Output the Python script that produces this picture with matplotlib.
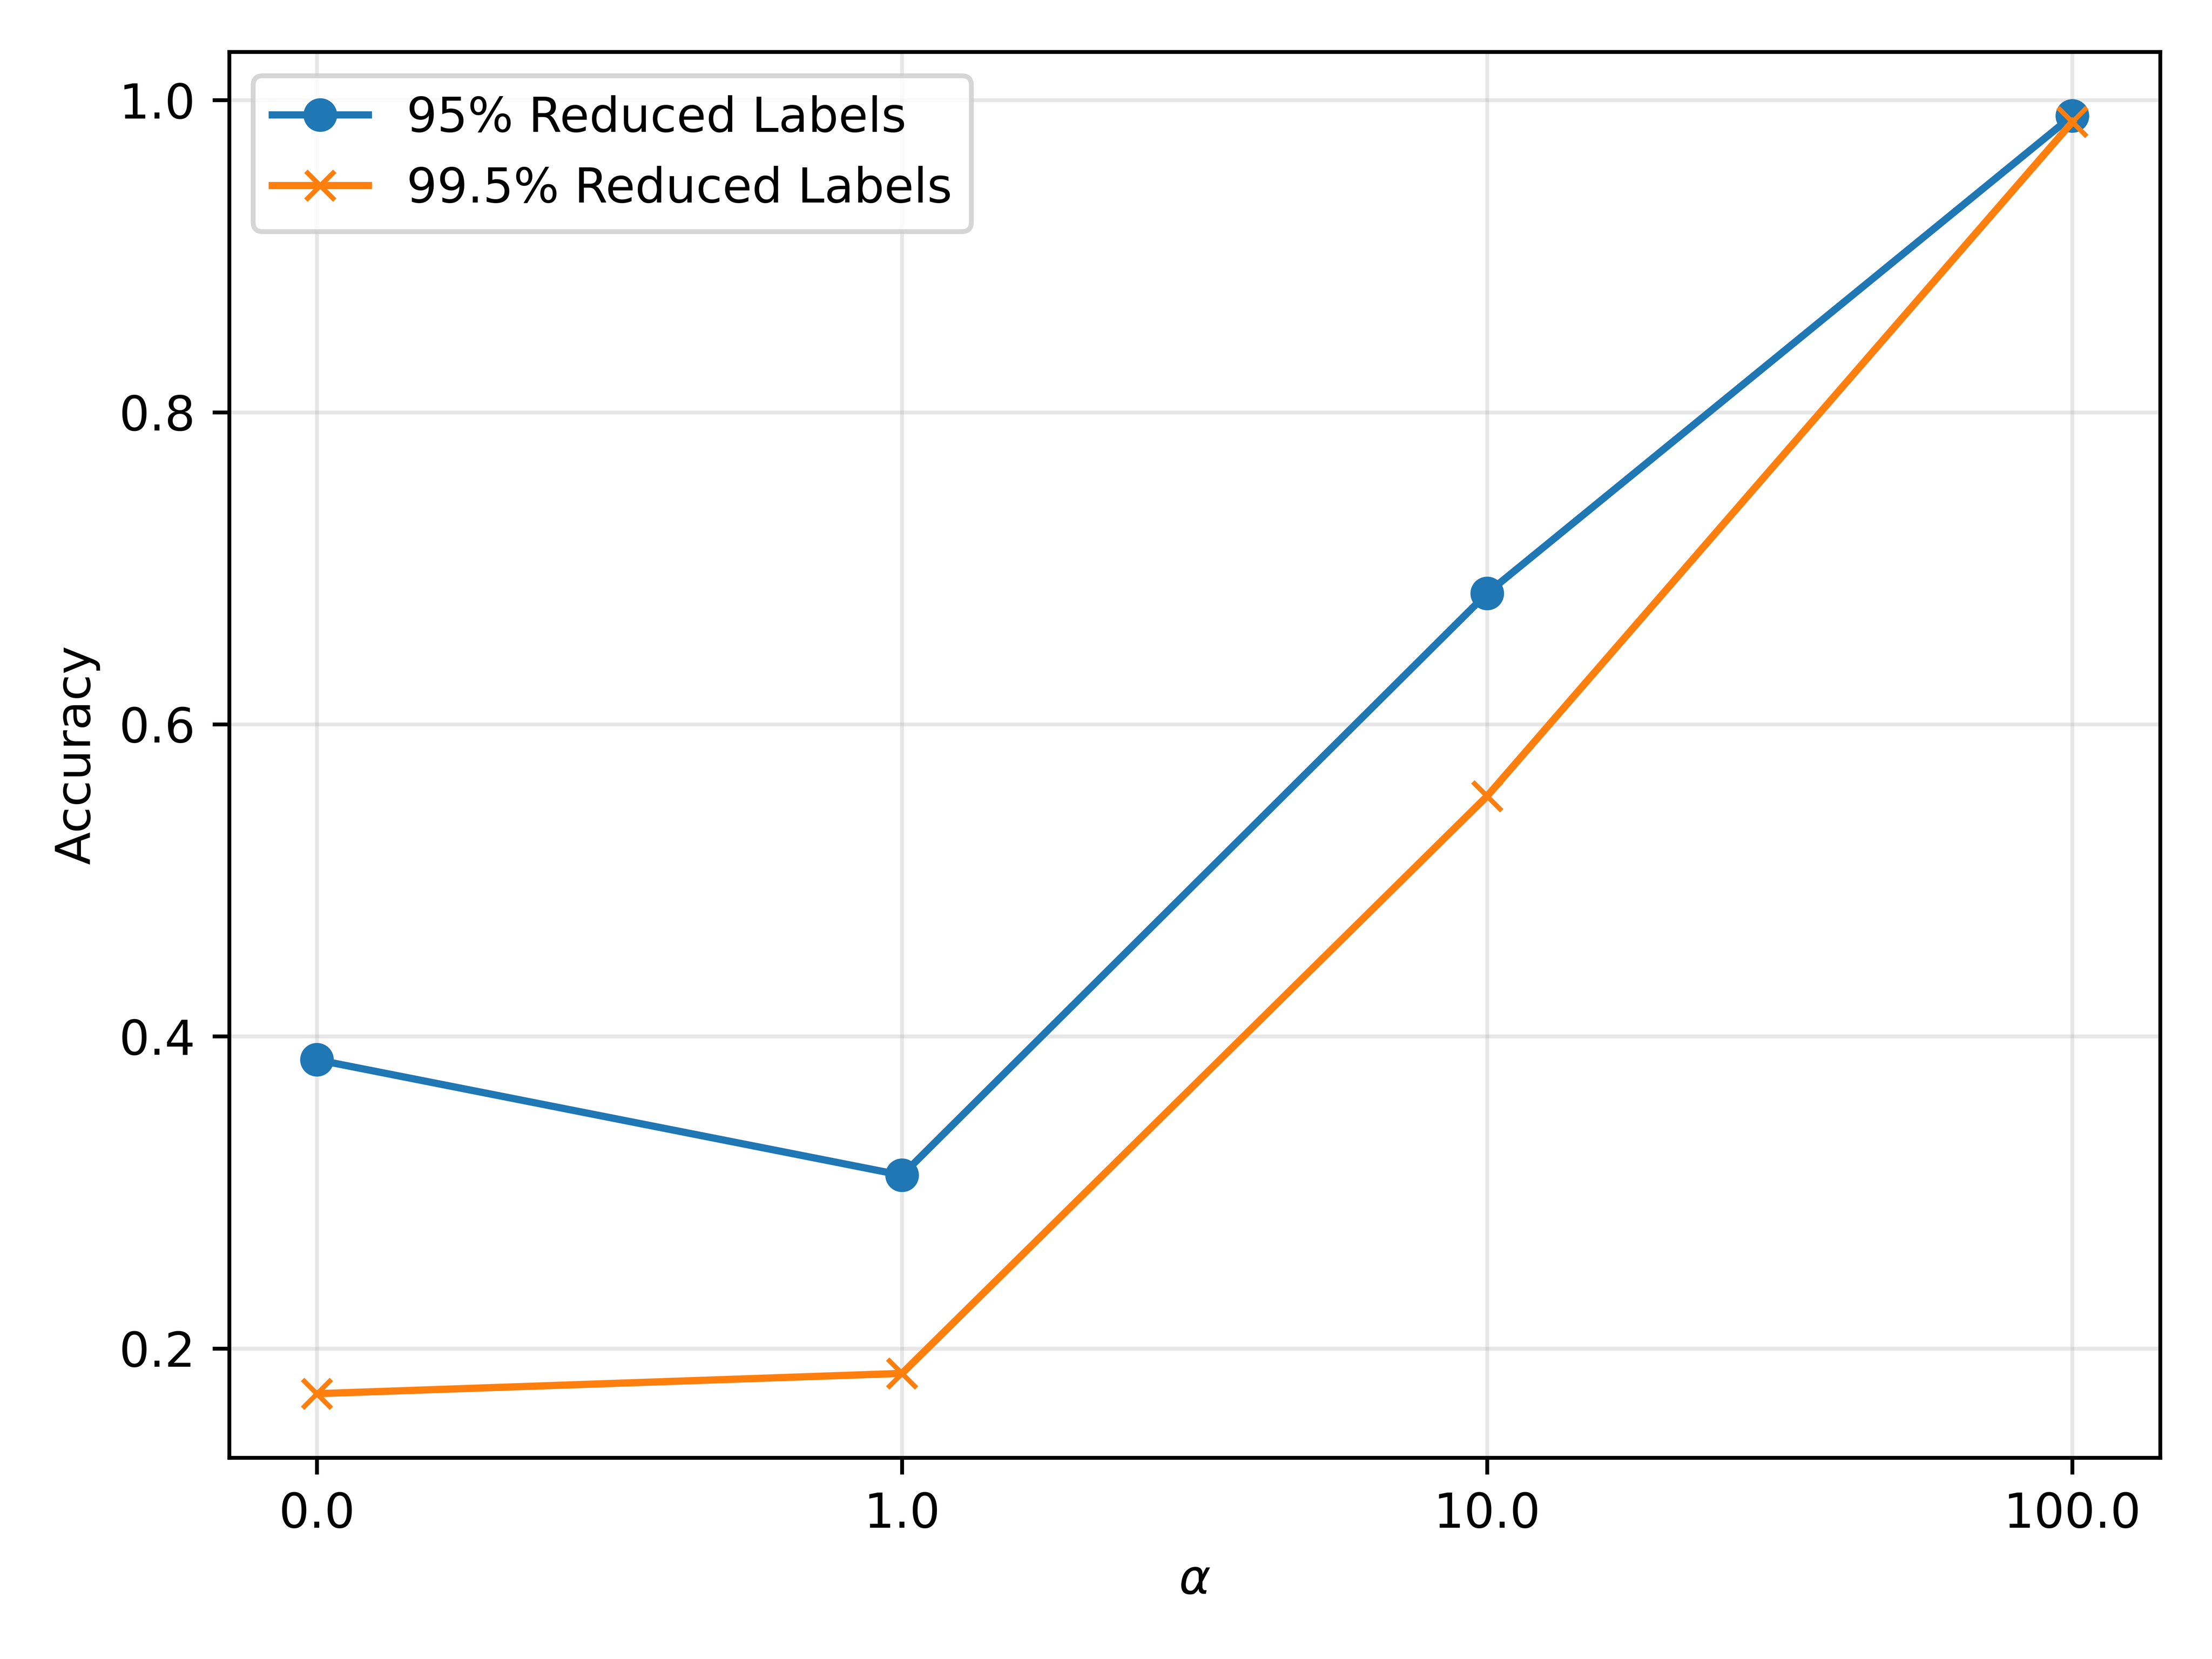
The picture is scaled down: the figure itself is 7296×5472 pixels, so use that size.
import matplotlib
matplotlib.use("Agg")
import matplotlib.pyplot as plt

alphas = ["0.0", "1.0", "10.0", "100.0"]
acc_95 = [0.385, 0.311, 0.684, 0.990]
acc_995 = [0.171, 0.184, 0.554, 0.986]

x = list(range(len(alphas)))

fig, ax = plt.subplots(figsize=(6.4, 4.8))
ax.plot(x, acc_95, "o-", label="95% Reduced Labels")
ax.plot(x, acc_995, "x-", label="99.5% Reduced Labels")
ax.set_xticks(x)
ax.set_xticklabels(alphas)
ax.set_xlabel(r"$\alpha$")
ax.set_ylabel("Accuracy")
ax.legend(loc="upper left")
ax.grid(True, alpha=0.3)

fig.tight_layout()
# 1200 dpi would give 7680x5760 but the viewer caps at 40M pixels
fig.savefig("out.png", dpi=1140)
plt.close(fig)
